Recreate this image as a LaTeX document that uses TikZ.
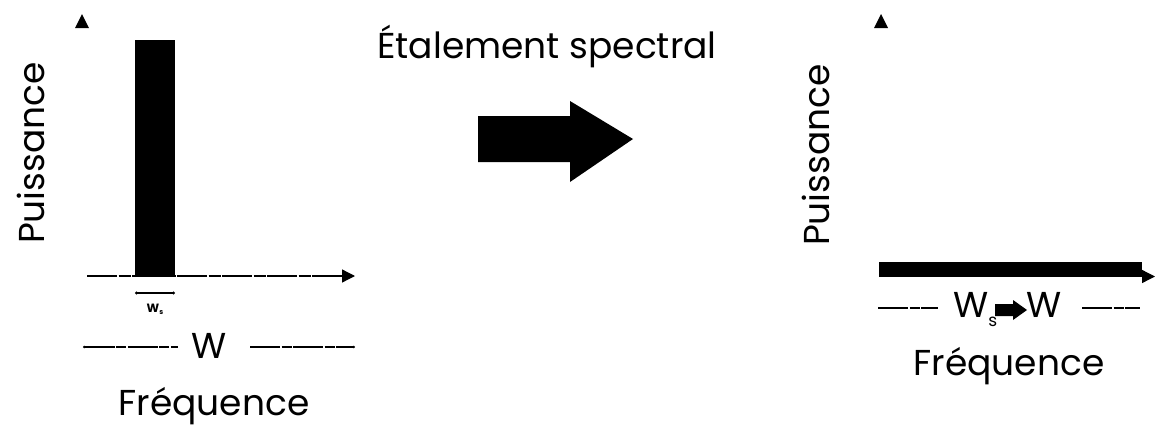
\documentclass[tikz,border=0pt]{standalone}
\usepackage{fontspec}
\setmainfont{Poppins}
\usetikzlibrary{arrows.meta}
\begin{document}
\begin{tikzpicture}[x=1pt,y=-1pt,
  big/.style={font=\fontsize{36}{40}\selectfont, inner sep=0pt},
  small/.style={font=\fontsize{12}{13}\selectfont\bfseries, inner sep=0pt},
  axisline/.style={line width=1.3pt, dash pattern=on 30pt off 1.5pt on 12pt off 1.5pt},
  axistip/.style={-{Triangle[length=13pt,width=13pt]}},
  dimline/.style={line width=1.1pt, dash pattern=on 30pt off 1.5pt on 10pt off 1.5pt},
  dotends/.style={{Circle[length=3pt]}-{Circle[length=3pt]}}]
\useasboundingbox (0,0) rectangle (1160,426);

% ---------- left panel ----------
\fill (75,28) -- (82,14) -- (89,28) -- cycle;
\node[big, anchor=base, rotate=90] (pl) at (44,153) {Puissance};
\fill (135,40) rectangle (175,277);
\coordinate (lx0) at (87,276);
\coordinate (lx1) at (355,276);
\draw[axisline, axistip] (lx0) -- (lx1);
\coordinate (wsa) at (135,293);
\coordinate (wsb) at (175,293);
\draw[line width=1.1pt, dotends] (wsa) -- (wsb);
\node[small, anchor=base] (wsl) at (155,312) {W\raisebox{-2pt}{\fontsize{7}{7}\selectfont s}};
\node[big, anchor=base] (W) at (209,358) {W};
\coordinate (wl0) at (83,347);
\coordinate (wl1) at (178,347);
\coordinate (wr0) at (250,347);
\coordinate (wr1) at (355,347);
\draw[dimline, {Circle[length=2.5pt]}-] (wl0) -- (wl1);
\draw[dimline, -{Circle[length=2.5pt]}] (wr0) -- (wr1);
\node[big, anchor=base] (fl) at (214,415) {Fréquence};

% ---------- middle ----------
\node[big, anchor=base] (title) at (547,58) {Étalement spectral};
\fill (478,116) -- (570,116) -- (570,101) -- (633,139) -- (570,182) -- (570,162) -- (478,162) -- cycle;

% ---------- right panel ----------
\fill (874,28) -- (881,14) -- (888,28) -- cycle;
\node[big, anchor=base, rotate=90] (pr) at (829,155) {Puissance};
\coordinate (rx0) at (879,276.5);
\coordinate (rx1) at (1155,276.5);
\draw[line width=1.3pt, axistip] (rx0) -- (rx1);
\fill (879,262) rectangle (1142,277);
\coordinate (rl0) at (878,308);
\coordinate (rl1) at (938,308);
\coordinate (rr0) at (1082,308);
\coordinate (rr1) at (1140,308);
\draw[dimline] (rl0) -- (rl1);
\draw[dimline] (rr0) -- (rr1);
\node[big, anchor=base west] (wsr) at (953,317) {W\raisebox{-9pt}{\fontsize{17}{17}\selectfont s}};
\fill (995,304) -- (1013,304) -- (1013,300) -- (1027,310) -- (1013,320) -- (1013,316) -- (995,316) -- cycle;
\node[big, anchor=base west] (wr) at (1026,317) {W};
\node[big, anchor=base] (fr) at (1009,375) {Fréquence};
\end{tikzpicture}
\end{document}
